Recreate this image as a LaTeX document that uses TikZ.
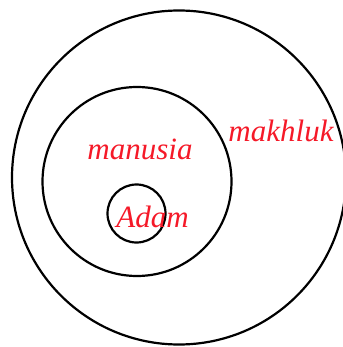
\documentclass[tikz,border=0pt]{standalone}
\usepackage{fontspec}
\setmainfont{Liberation Serif}
\definecolor{lblred}{RGB}{245,25,40}
\begin{document}
\begin{tikzpicture}[x=1pt,y=-1pt,
  ring/.style={circle,draw=black,line width=2.2pt,inner sep=0pt,minimum size=#1},
  lbl/.style={text=lblred,font=\fontsize{31}{31}\selectfont\itshape,anchor=base,inner sep=0pt}]
\useasboundingbox (0,0) rectangle (342,347);
\node[ring=334pt] (outer) at (179,177.5) {};
\node[ring=189pt] (middle) at (137,181.5) {};
\node[ring=58pt] (inner) at (136.5,213.5) {};
\node[lbl] (makhluk) at (281,142) {makhluk};
\node[lbl] (manusia) at (140,160) {manusia};
\node[lbl] (adam) at (152.5,227) {Adam};
\end{tikzpicture}
\end{document}
